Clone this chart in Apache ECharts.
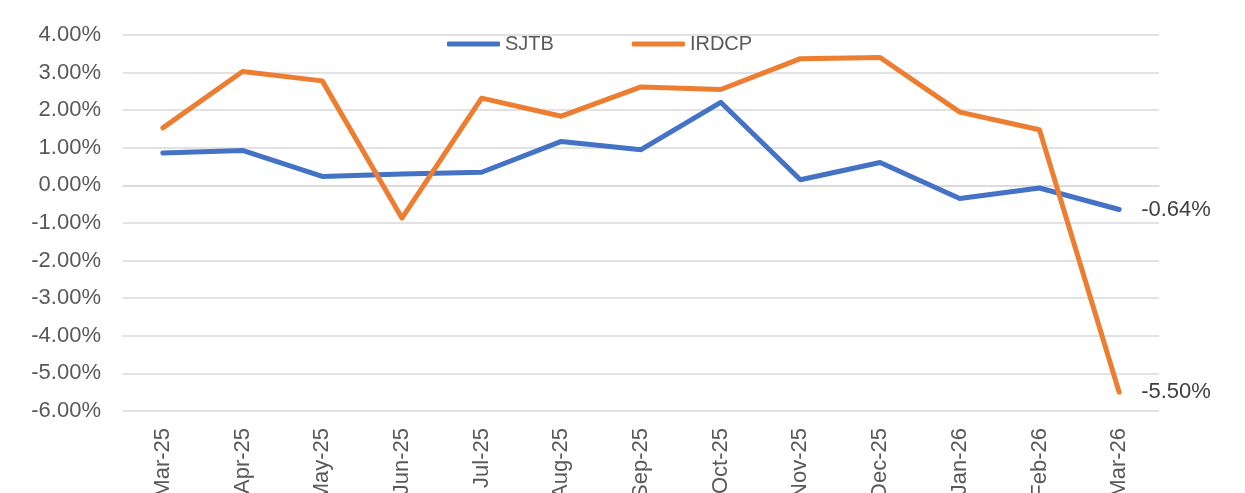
<!DOCTYPE html>
<html>
<head>
<meta charset="utf-8">
<script src="https://cdn.jsdelivr.net/npm/echarts@6/dist/echarts.min.js"></script>
<style>html,body{margin:0;padding:0;background:#fff;}#c{width:1245px;height:493px;}</style>
</head>
<body>
<div id="c"></div>
<script>
const categories = ['Mar-25','Apr-25','May-25','Jun-25','Jul-25','Aug-25','Sep-25','Oct-25','Nov-25','Dec-25','Jan-26','Feb-26','Mar-26'];
const sjtb = [0.86, 0.93, 0.24, 0.30, 0.35, 1.17, 0.95, 2.21, 0.15, 0.61, -0.35, -0.07, -0.64];
const irdcp = [1.53, 3.03, 2.78, -0.87, 2.32, 1.84, 2.62, 2.55, 3.37, 3.40, 1.95, 1.48, -5.50];
const yMin = -6, yMax = 4, yStep = 1;

const FONT = "'Liberation Sans', Arial, sans-serif";
const chart = echarts.init(document.getElementById('c'), null, {renderer: 'canvas'});
function mkSeries(name, data, color) {
  return {
    name, type: 'line', data,
    symbol: 'none', showSymbol: false,
    lineStyle: {color, width: 5, cap: 'round', join: 'round'},
    itemStyle: {color},
    endLabel: {
      show: true, distance: 22, color: '#404040', fontSize: 22, fontFamily: FONT,
      formatter: p => p.value.toFixed(2) + '%'
    },
    animation: false
  };
}
chart.setOption({
  animation: false,
  grid: {left: 123, right: 86, top: 35, bottom: 82, containLabel: false, outerBoundsMode: 'none'},
  legend: {
    top: 29, left: 442, itemWidth: 53, itemHeight: 5, itemGap: 78, icon: 'roundRect',
    textStyle: {color: '#595959', fontSize: 20, fontFamily: FONT},
    data: ['SJTB', 'IRDCP']
  },
  xAxis: {
    type: 'category', data: categories, boundaryGap: true,
    axisLine: {show: true, lineStyle: {color: '#d9d9d9', width: 1.5}},
    axisTick: {show: false},
    axisLabel: {rotate: 90, margin: 17, color: '#595959', fontSize: 22, fontFamily: FONT, interval: 0}
  },
  yAxis: {
    type: 'value', min: yMin, max: yMax, interval: yStep,
    axisLine: {show: false}, axisTick: {show: false},
    splitLine: {lineStyle: {color: '#d9d9d9', width: 1.5}},
    axisLabel: {margin: 22, color: '#595959', fontSize: 22, fontFamily: FONT,
      formatter: v => v.toFixed(2) + '%'}
  },
  series: [mkSeries('SJTB', sjtb, '#4472C4'), mkSeries('IRDCP', irdcp, '#ED7D31')]
});
</script>
</body>
</html>
